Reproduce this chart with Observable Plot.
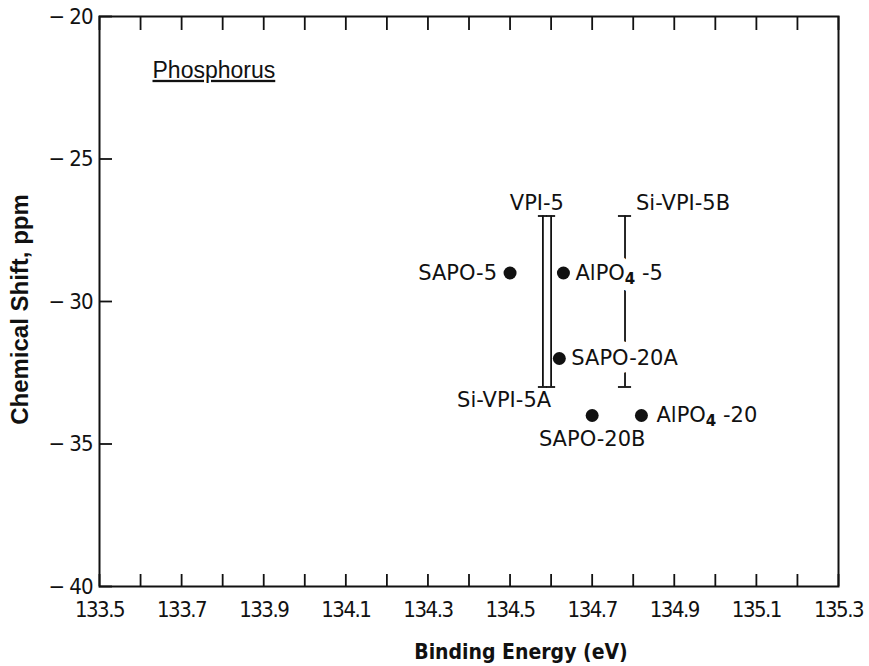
<!DOCTYPE html>
<html><head><meta charset="utf-8">
<script src="https://cdn.jsdelivr.net/npm/d3@7"></script>
<script src="https://cdn.jsdelivr.net/npm/@observablehq/plot@0.6"></script>
<style>
body{margin:0;background:#fff;}
#chart svg{background:#fff;}
g[aria-label="x-axis tick label"] text{letter-spacing:-1.5px;}
g[aria-label="y-axis tick label"] text{letter-spacing:-1px;}
</style></head><body><div id="chart"></div>
<script>
// ---- data ----
const pointNames = ["SAPO-5", "AlPO₄-5", "SAPO-20A", "SAPO-20B", "AlPO₄-20"];
const pointBinding = [134.50, 134.63, 134.62, 134.70, 134.82];
const pointShift = [-29, -29, -32, -34, -34];

const rangeNames = ["VPI-5", "Si-VPI-5A", "Si-VPI-5B"];
const rangeBinding = [134.58, 134.60, 134.78];
const rangeLow = [-33, -33, -33];
const rangeHigh = [-27, -27, -27];

const xTickLabels = [133.5, 133.7, 133.9, 134.1, 134.3, 134.5, 134.7, 134.9, 135.1, 135.3];
const xMinorTicks = [133.5, 133.6, 133.7, 133.8, 133.9, 134.0, 134.1, 134.2, 134.3, 134.4, 134.5, 134.6, 134.7, 134.8, 134.9, 135.0, 135.1, 135.2, 135.3];
const yTickLabels = [-20, -25, -30, -35, -40];

const xTitle = "Binding Energy (eV)";
const yTitle = "Chemical Shift, ppm";
const panelTitle = "Phosphorus";

// ---- tables ----
const points = pointNames.map((n, i) => ({name: n, x: pointBinding[i], y: pointShift[i]}));
const ranges = rangeNames.map((n, i) => ({name: n, x: rangeBinding[i], lo: rangeLow[i], hi: rangeHigh[i]}));

const W = 869, H = 666, mL = 99, mR = 31, mT = 16, mB = 80;
const fW = W - mL - mR, fH = H - mT - mB;
const ink = "#111";
const tickFont = "'Liberation Sans Narrow', 'DejaVu Sans Condensed', 'DejaVu Sans', sans-serif";
const labelFont = "'DejaVu Sans', sans-serif";
const capHalf = 0.011;
const byName = (names) => (d) => names.includes(d.name);
const haloed = points.filter(byName(["AlPO₄-5", "SAPO-20A"]));

const chart = Plot.plot({
  width: W, height: H,
  marginLeft: mL, marginRight: mR, marginTop: mT, marginBottom: mB,
  style: {fontFamily: labelFont, fontSize: "21px", color: ink, background: "#fff"},
  x: {domain: [133.5, 135.3]},
  y: {domain: [-40, -20]},
  marks: [
    Plot.frame({stroke: ink, strokeWidth: 2}),
    // inward ticks
    Plot.ruleX(xMinorTicks, {x: d => d, insetTop: fH - 12, stroke: ink, strokeWidth: 1.8}),
    Plot.ruleX(xMinorTicks, {x: d => d, insetBottom: fH - 14, stroke: ink, strokeWidth: 1.8}),
    Plot.ruleY(yTickLabels, {y: d => d, insetRight: fW - 13, stroke: ink, strokeWidth: 1.8}),
    Plot.axisX({ticks: xTickLabels, tickSize: 0, tickPadding: 15, tickFormat: d => d.toFixed(1), label: null, fontSize: 22, fontFamily: tickFont}),
    Plot.axisY({ticks: yTickLabels, tickSize: 0, tickPadding: 7, tickFormat: d => "− " + Math.abs(d), label: null, fontSize: 22, fontFamily: tickFont}),
    Plot.text([xTitle], {frameAnchor: "bottom", text: d => d, dx: 52, dy: 72, fontSize: 21, fontWeight: "bold", fontFamily: "'DejaVu Sans Condensed', 'DejaVu Sans', sans-serif"}),
    Plot.text([yTitle], {frameAnchor: "left", text: d => d, rotate: -90, textAnchor: "middle", dx: -79, dy: 8, fontSize: 24, fontWeight: "bold", fontFamily: "'Liberation Sans', Arial, sans-serif"}),
    Plot.text([panelTitle], {frameAnchor: "top-left", text: d => d, dx: 53, dy: 45, textAnchor: "start", fontSize: 23, fontFamily: "'Liberation Sans', Arial, sans-serif"}),
    // range bars
    Plot.ruleX(ranges, {x: "x", y1: "lo", y2: "hi", stroke: ink, strokeWidth: 1.8}),
    Plot.ruleY(ranges.filter(byName(["VPI-5", "Si-VPI-5A"])), {y: "hi", x1: d => d.x - capHalf, x2: d => d.x + capHalf, stroke: ink, strokeWidth: 1.8}),
    Plot.ruleY(ranges.filter(byName(["VPI-5", "Si-VPI-5A"])), {y: "lo", x1: d => d.x - capHalf, x2: d => d.x + capHalf, stroke: ink, strokeWidth: 1.8}),
    Plot.ruleY(ranges.filter(byName(["Si-VPI-5B"])), {y: "hi", x1: d => d.x - 0.016, x2: d => d.x + 0.016, stroke: ink, strokeWidth: 1.8}),
    Plot.ruleY(ranges.filter(byName(["Si-VPI-5B"])), {y: "lo", x1: d => d.x - 0.016, x2: d => d.x + 0.016, stroke: ink, strokeWidth: 1.8}),
    // range labels
    Plot.text(ranges.filter(byName(["VPI-5"])), {x: "x", y: "hi", text: "name", dy: -13, dx: -6, fill: ink}),
    Plot.text(ranges.filter(byName(["Si-VPI-5A"])), {x: "x", y: "lo", text: "name", dy: 13, textAnchor: "end", fill: ink}),
    Plot.text(ranges.filter(byName(["Si-VPI-5B"])), {x: "x", y: "hi", text: "name", dy: -13, dx: 11, textAnchor: "start", fill: ink}),
    // white halo that breaks the Si-VPI-5B bar behind these labels, as in the original
    Plot.text(haloed, {x: "x", y: "y", text: "name", dx: 12, textAnchor: "start", fill: "#fff", stroke: "#fff", strokeWidth: 16}),
    // point labels
    Plot.text(points.filter(byName(["SAPO-5"])), {x: "x", y: "y", text: "name", dx: -13, textAnchor: "end", fill: ink}),
    Plot.text(haloed, {x: "x", y: "y", text: "name", dx: 12, textAnchor: "start", fill: ink}),
    Plot.text(points.filter(byName(["SAPO-20B"])), {x: "x", y: "y", text: "name", dy: 24, fill: ink}),
    Plot.text(points.filter(byName(["AlPO₄-20"])), {x: "x", y: "y", text: "name", dx: 15, textAnchor: "start", fill: ink}),
    Plot.dot(points, {x: "x", y: "y", r: 6.5, fill: ink, stroke: "none"})
  ]
});
document.getElementById("chart").appendChild(chart);
// post-render text styling: underline the panel title, render the "4" in AlPO4 as a lowered bold digit
const svgNS = "http://www.w3.org/2000/svg";
for (const t of chart.querySelectorAll("text")) {
  if (t.textContent === panelTitle) {
    t.style.textDecoration = "underline";
    t.style.textDecorationThickness = "2.5px";
    t.style.textUnderlineOffset = "5px";
  }
  if (t.textContent.includes("₄") && t.childElementCount === 0) {
    const [a, b] = t.textContent.split("₄");
    t.textContent = "";
    const s1 = document.createElementNS(svgNS, "tspan"); s1.textContent = a;
    const s2 = document.createElementNS(svgNS, "tspan"); s2.textContent = "4";
    s2.setAttribute("font-size", "15"); s2.setAttribute("font-weight", "bold"); s2.setAttribute("dy", "4");
    const s3 = document.createElementNS(svgNS, "tspan"); s3.textContent = " " + b; s3.setAttribute("dy", "-4");
    t.append(s1, s2, s3);
  }
}
</script>
</body></html>
